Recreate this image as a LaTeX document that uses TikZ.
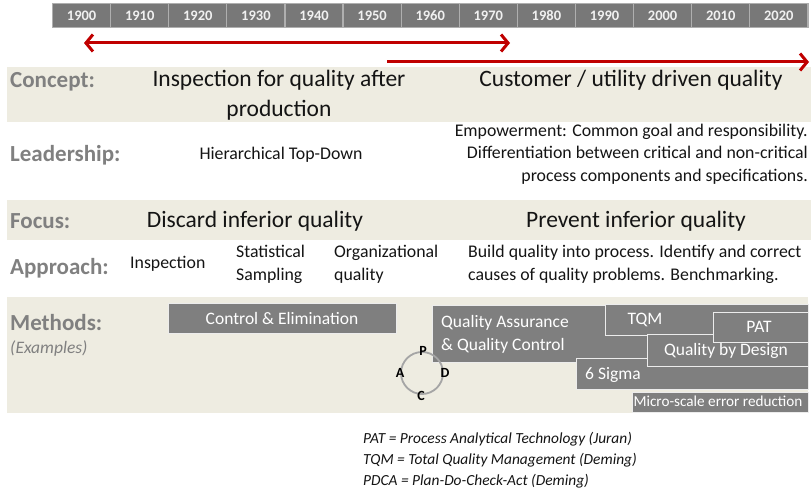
\documentclass[tikz,border=0pt]{standalone}
\usepackage{fontspec}
\setmainfont{Carlito}
\usetikzlibrary{arrows.meta}
\definecolor{band}{RGB}{238,236,225}
\definecolor{boxgray}{RGB}{127,127,127}
\definecolor{bargray}{RGB}{120,120,120}
\definecolor{barline}{RGB}{175,175,175}
\definecolor{labgray}{RGB}{128,128,128}
\definecolor{arrred}{RGB}{192,0,0}
\definecolor{circgray}{RGB}{165,165,165}
\definecolor{ink}{RGB}{20,20,20}
\newcommand{\fs}[2]{\fontsize{#1}{#2}\selectfont}
\tikzset{
  yearcell/.style={draw=barline, line width=1.2pt, fill=bargray, text=white!94!black,
    minimum width=58.1pt, minimum height=24pt, inner sep=0pt, font=\fs{14.5}{16}\bfseries},
  rowlab/.style={anchor=west, text=labgray, inner sep=0pt, font=\fs{23}{26}\bfseries},
  bigtxt/.style={text=ink, inner sep=0pt, align=center, font=\fs{23.5}{30}},
  midtxt/.style={text=ink, inner sep=0pt, font=\fs{17.8}{22.7}},
  methbox/.style={fill=boxgray, draw=white!85!boxgray, line width=0.8pt},
  boxtxt/.style={text=white, inner sep=0pt, font=\fs{17.5}{23}},
  redarrow/.style={draw=arrred, line width=3pt},
  pdcalet/.style={inner sep=0pt, text=black, font=\fs{14}{15}\bfseries},
  note/.style={anchor=west, inner sep=0pt, text=ink, font=\fs{15.4}{17}\itshape},
}
\begin{document}
\begin{tikzpicture}[x=1pt, y=-1pt]
\useasboundingbox (0,0) rectangle (811,492);

% background bands
\fill[band] (7,67) rectangle (811,122);
\fill[band] (7,200) rectangle (811,240);
\fill[band] (7,297) rectangle (808,413);

% timeline
\fill[barline] (52,3) rectangle (809,28);
\foreach \yr [count=\i from 0] in {1900,1910,1920,1930,1940,1950,1960,1970,1980,1990,2000,2010,2020}
  \node[yearcell] (y\yr) at ({81.6+58.1*\i},15.5) {\yr};

% era arrows
\coordinate (a1s) at (84,43);
\coordinate (a1e) at (510,43);
\coordinate (a2s) at (387,62);
\coordinate (a2e) at (809,62);
\draw[redarrow, {Straight Barb[length=7pt,width=17pt]}-{Straight Barb[length=7pt,width=17pt]}] (a1s) -- (a1e);
\draw[redarrow, -{Straight Barb[length=7pt,width=17pt]}] (a2s) -- (a2e);

% row labels
\node[rowlab] (lconcept) at (10,82) {Concept:};
\node[rowlab] (llead) at (10,155) {Leadership:};
\node[rowlab] (lfocus) at (10,221) {Focus:};
\node[rowlab] (lappr) at (10,268) {Approach:};
\node[rowlab] (lmeth) at (10,323) {Methods:};
\node[anchor=west, inner sep=0pt, text=labgray, font=\fs{17.5}{20}\itshape] (lex) at (10,349) {(Examples)};

% concept
\node[bigtxt] (c1) at (279,95) {Inspection for quality after\\production};
\node[bigtxt] (c2) at (631,80) {Customer / utility driven quality};

% leadership
\node[midtxt] (l1) at (281,155) {Hierarchical Top-Down};
\node[midtxt, anchor=east, align=right] (l2) at (808,154) {Empowerment: Common goal and responsibility.\\Differentiation between critical and non-critical\\process components and specifications.};

% focus
\node[bigtxt] (f1) at (255,221) {Discard inferior quality};
\node[bigtxt] (f2) at (636,221) {Prevent inferior quality};

% approach
\node[midtxt, anchor=west] (p1) at (130,264) {Inspection};
\node[midtxt, anchor=west, align=left] (p2) at (236,264) {Statistical\\Sampling};
\node[midtxt, anchor=west, align=left] (p3) at (334,264) {Organizational\\quality};
\node[midtxt, anchor=west, align=left] (p4) at (468,264) {Build quality into process. Identify and correct\\causes of quality problems. Benchmarking.};

% methods
\draw[methbox] (168,303) rectangle (396,333);
\node[boxtxt] (m1) at (282,318) {Control \& Elimination};
\draw[methbox] (432,305) rectangle (647,362);
\node[boxtxt, anchor=west, align=left] (m2) at (441,334) {Quality Assurance\\\& Quality Control};
\draw[methbox] (605,304) rectangle (808,335);
\node[boxtxt] (m3) at (645,320) {TQM};
\draw[methbox] (576,358) rectangle (808,389);
\node[boxtxt, anchor=west] (m4) at (585,375) {6 Sigma};
\draw[methbox] (647,334) rectangle (808,366);
\node[boxtxt] (m5) at (726,351) {Quality by Design};
\draw[methbox] (713,312) rectangle (808,342);
\node[boxtxt] (m6) at (759,327) {PAT};
\draw[methbox] (632,392) rectangle (808,412);
\node[boxtxt, font=\fs{15.2}{17}] (m7) at (718,401) {Micro-scale error reduction};

% PDCA cycle
\node[circle, draw=circgray, line width=1.8pt, minimum size=42pt, inner sep=0pt] (pdca) at (422,373) {};
\node[pdcalet] (pP) at (423,351) {P};
\node[pdcalet] (pD) at (445,373) {D};
\node[pdcalet] (pC) at (421,396) {C};
\node[pdcalet] (pA) at (400,373) {A};

% abbreviations
\node[note] (n1) at (363,439) {PAT = Process Analytical Technology (Juran)};
\node[note] (n2) at (363,460) {TQM = Total Quality Management (Deming)};
\node[note] (n3) at (363,481) {PDCA = Plan-Do-Check-Act (Deming)};
\end{tikzpicture}
\end{document}
